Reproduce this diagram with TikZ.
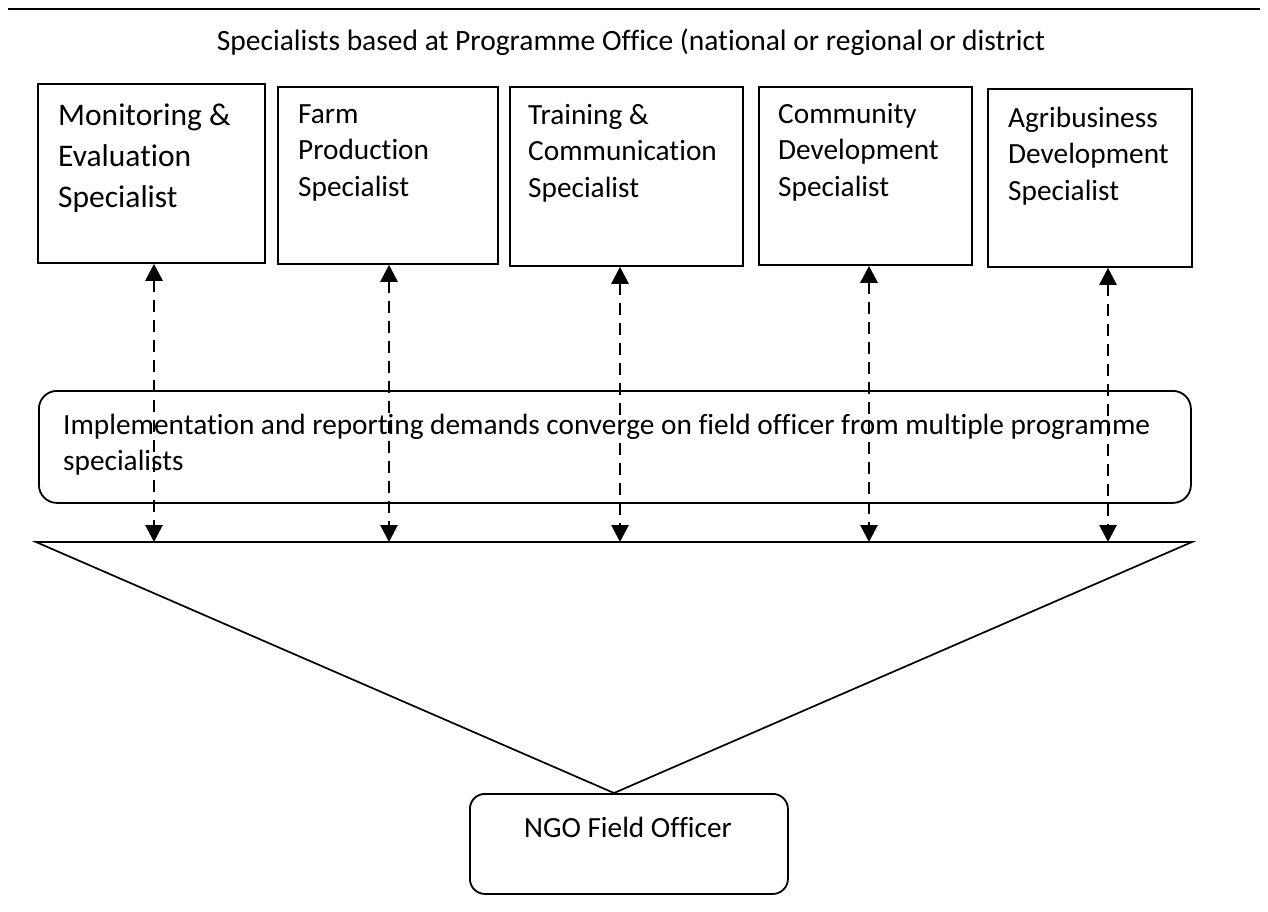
\documentclass[tikz,border=0pt]{standalone}
\usepackage{fontspec}
\setmainfont{Carlito}[Ligatures=NoCommon]
\usetikzlibrary{arrows.meta}
\begin{document}
\begin{tikzpicture}[x=1pt,y=-1pt,
  spbox/.style={draw, line width=1.8pt, anchor=north west, inner sep=0pt},
  rbox/.style={draw, line width=1.8pt, anchor=north west, inner sep=0pt},
  boxtext/.style={anchor=north west, inner sep=0pt, align=left, font=\fontsize{29.3}{36.5}\selectfont},
  bigtext/.style={anchor=north west, inner sep=0pt, align=left, font=\fontsize{31.5}{41}\selectfont},
  link/.style={line width=2.8pt, dash pattern=on 12pt off 8pt,
    {Triangle[width=17pt,length=17pt]}-{Triangle[width=17pt,length=17pt]}},
  plain/.style={line width=1.7pt},
]
\useasboundingbox (0,0) rectangle (1268,911);

% top rule
\coordinate (rl) at (8,9);
\coordinate (rr) at (1260,9);
\draw[plain] (rl) -- (rr);

% title
\node[anchor=base, inner sep=0pt, font=\fontsize{29.5}{34}\selectfont] (title) at (631,50)
  {Specialists based at Programme Office (national or regional or district};

% specialist boxes
\node[spbox, minimum width=227pt, minimum height=179pt] (b1) at (37,83) {};
\node[spbox, minimum width=220pt, minimum height=177pt] (b2) at (277,86) {};
\node[spbox, minimum width=233pt, minimum height=179pt] (b3) at (509,86) {};
\node[spbox, minimum width=213pt, minimum height=178pt] (b4) at (758,86) {};
\node[spbox, minimum width=204pt, minimum height=178pt] (b5) at (987,88) {};

\node[bigtext] (t1) at (58,96.3) {\strut Monitoring \&\\Evaluation\\Specialist};
\node[boxtext] (t2) at (298,97.5) {\strut Farm\\Production\\Specialist};
\node[boxtext] (t3) at (528,98.5) {\strut Training \&\\Communication\\Specialist};
\node[boxtext] (t4) at (778,97.5) {\strut Community\\Development\\Specialist};
\node[boxtext] (t5) at (1008,101.5) {\strut Agribusiness\\Development\\Specialist};

% middle rounded box
\node[rbox, rounded corners=18pt, minimum width=1152pt, minimum height=112pt] (mid) at (38,390) {};
\node[boxtext] (midtext) at (63,408.5)
  {\strut Implementation and reporting demands converge on field officer from multiple programme\\specialists};

% field officer box
\node[rbox, rounded corners=15pt, minimum width=318pt, minimum height=100pt] (ngo) at (469,793) {};
\node[anchor=base, inner sep=0pt, font=\fontsize{29.3}{34}\selectfont] (ngotext) at (628,837) {NGO Field Officer};

% funnel triangle
\coordinate (tl) at (36,542);
\coordinate (tr) at (1192,542);
\coordinate (apex) at (614,793);
\draw[plain, line join=miter] (tl) -- (tr) -- (apex) -- cycle;

% arrows
\coordinate (e1) at (154,542);
\coordinate (e2) at (389,542);
\coordinate (e3) at (620,542);
\coordinate (e4) at (869,542);
\coordinate (e5) at (1108,542);
\draw[link] (b1.south -| e1) -- (e1);
\draw[link] (b2.south -| e2) -- (e2);
\draw[link] (b3.south -| e3) -- (e3);
\draw[link] (b4.south -| e4) -- (e4);
\draw[link] (b5.south -| e5) -- (e5);
\end{tikzpicture}
\end{document}
